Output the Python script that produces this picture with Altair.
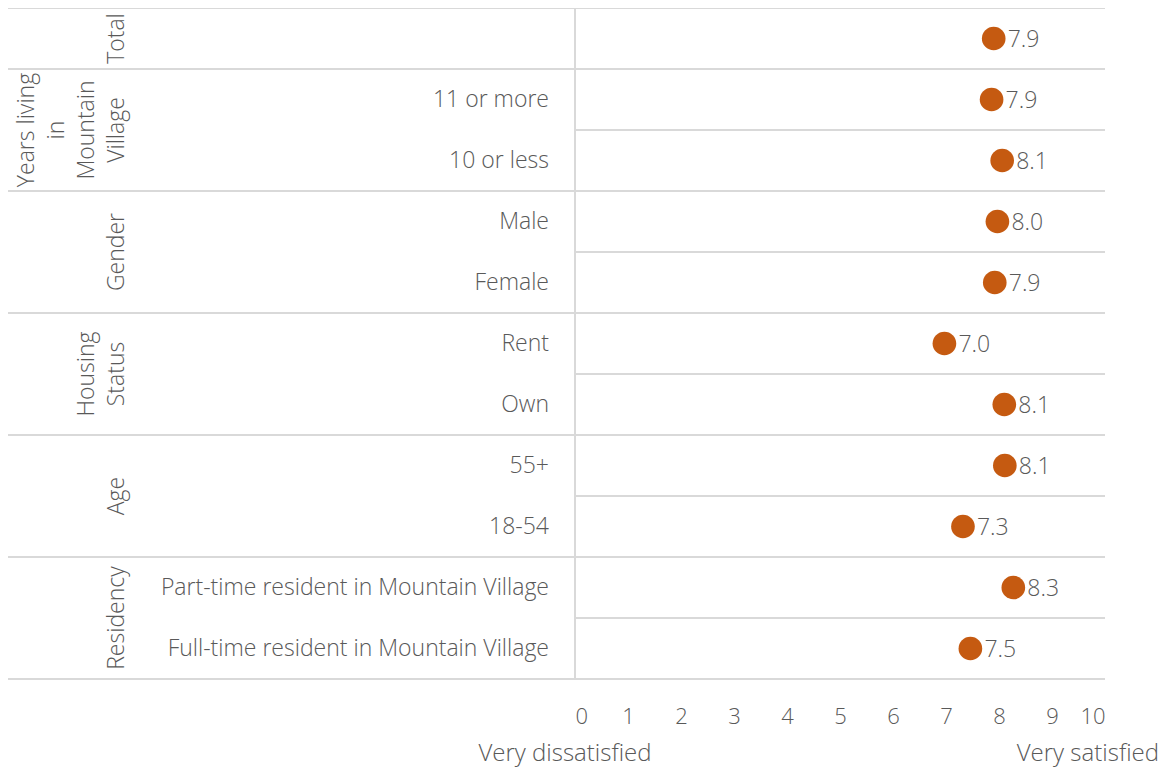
import altair as alt
import pandas as pd

# ---- data ----
row_labels = ["", "11 or more", "10 or less", "Male", "Female", "Rent", "Own",
              "55+", "18-54", "Part-time resident in Mountain Village",
              "Full-time resident in Mountain Village"]
row_groups = ["Total", "Years", "Years", "Gender", "Gender", "Housing", "Housing",
              "Age", "Age", "Residency", "Residency"]
scores = [7.90, 7.86, 8.06, 7.97, 7.92, 6.97, 8.10, 8.11, 7.32, 8.27, 7.46]

group_keys = ["Total", "Years", "Gender", "Housing", "Age", "Residency"]
group_titles = ["Total", "Years living\nin\nMountain\nVillage", "Gender",
                "Housing\nStatus", "Age", "Residency"]
x_ticks = list(range(0, 11))

W, H = 530, 671
LEFT = 567
RIGHT = 60
BOTTOM = 89
FONT = "Open Sans"
TXT = "#595959"
GRID = "#d9d9d9"
DOT = "#C55A11"
GX = -446      # right edge (last line) of the rotated group labels
LH = 30        # line height of the rotated group labels

keys = [f"r{i:02d}" for i in range(len(row_labels))]
df = pd.DataFrame({"key": keys, "label": row_labels, "group": row_groups, "score": scores})
df["first"] = [i == 0 or row_groups[i] != row_groups[i - 1] for i in range(len(keys))]
df["last"] = [i == len(keys) - 1 for i in range(len(keys))]

# group label anchors
ga = []
for g, t in zip(group_keys, group_titles):
    idx = [i for i, rg in enumerate(row_groups) if rg == g]
    ga.append({"key": keys[idx[1] if len(idx) > 1 else idx[0]], "title": t,
               "single": len(idx) == 1, "nlines": t.count("\n") + 1})
gdf = pd.DataFrame(ga)

yscale = alt.Scale(domain=keys, paddingInner=0, paddingOuter=0)
base = alt.Chart(df)


def Y(bp):
    return alt.Y("key:N", scale=yscale, axis=None, bandPosition=bp)


inner_lines = base.transform_filter("!datum.first").mark_rule(color=GRID, strokeWidth=2).encode(
    y=Y(0), x=alt.value(0), x2=alt.value(W))
full_lines = base.transform_filter("datum.first").mark_rule(color=GRID, strokeWidth=2).encode(
    y=Y(0), x=alt.value(-LEFT), x2=alt.value(W))
bottom_line = base.transform_filter("datum.last").mark_rule(color=GRID, strokeWidth=2).encode(
    y=Y(1), x=alt.value(-LEFT), x2=alt.value(W))
vline = base.transform_filter("datum.last").mark_rule(color=GRID, strokeWidth=2).encode(
    x=alt.datum(0), y=alt.value(0), y2=alt.value(H))

dots = base.mark_circle(color=DOT, opacity=1, size=560).encode(
    x=alt.X("score:Q", scale=alt.Scale(domain=[0, 10], nice=False),
            axis=alt.Axis(values=x_ticks, title=None, domain=False, ticks=False, grid=False,
                          labelFont=FONT, labelFontSize=22, labelColor=TXT,
                          labelPadding=27, labelFontWeight=300)),
    y=Y(0.5))

vals = base.mark_text(align="left", baseline="middle", dx=14, dy=1, font=FONT, fontSize=23,
                      color=TXT, fontWeight=300).encode(
    x="score:Q", y=Y(0.5), text=alt.Text("score:Q", format=".1f"))

cats = base.mark_text(align="right", baseline="middle", font=FONT, fontSize=23, color=TXT,
                      fontWeight=300).encode(
    x=alt.value(-26), y=Y(0.5), text="label:N")

gbase = alt.Chart(gdf)
gmark = dict(angle=270, align="center", baseline="bottom", font=FONT, fontSize=23,
             color=TXT, fontWeight=300, lineBreak="\n", lineHeight=LH)
g_single = gbase.transform_filter("datum.single").mark_text(**gmark).encode(
    x=alt.value(GX), y=Y(0.5), text="title:N")
g_layers = []
for n in sorted(set(gdf["nlines"])):
    g_layers.append(
        gbase.transform_filter(f"!datum.single && datum.nlines == {n}").mark_text(**gmark).encode(
            x=alt.value(GX - (n - 1) * LH), y=Y(0), text="title:N"))

t1 = base.transform_filter("datum.last").mark_text(
    align="center", baseline="middle", font=FONT, fontSize=24, color=TXT, fontWeight=300,
    text="Very dissatisfied").encode(x=alt.value(-10), y=alt.value(H + 75))
t2 = base.transform_filter("datum.last").mark_text(
    align="right", baseline="middle", font=FONT, fontSize=24, color=TXT, fontWeight=300,
    text="Very satisfied").encode(x=alt.value(W + RIGHT - 6), y=alt.value(H + 75))

chart = alt.layer(inner_lines, full_lines, bottom_line, vline, dots, vals, cats,
                  g_single, *g_layers, t1, t2).properties(
    width=W, height=H, autosize="none",
    padding={"left": LEFT, "top": 0, "right": RIGHT, "bottom": BOTTOM},
).configure_view(stroke=None)

chart.save("out.html", embed_options={"renderer": "svg", "actions": False})
